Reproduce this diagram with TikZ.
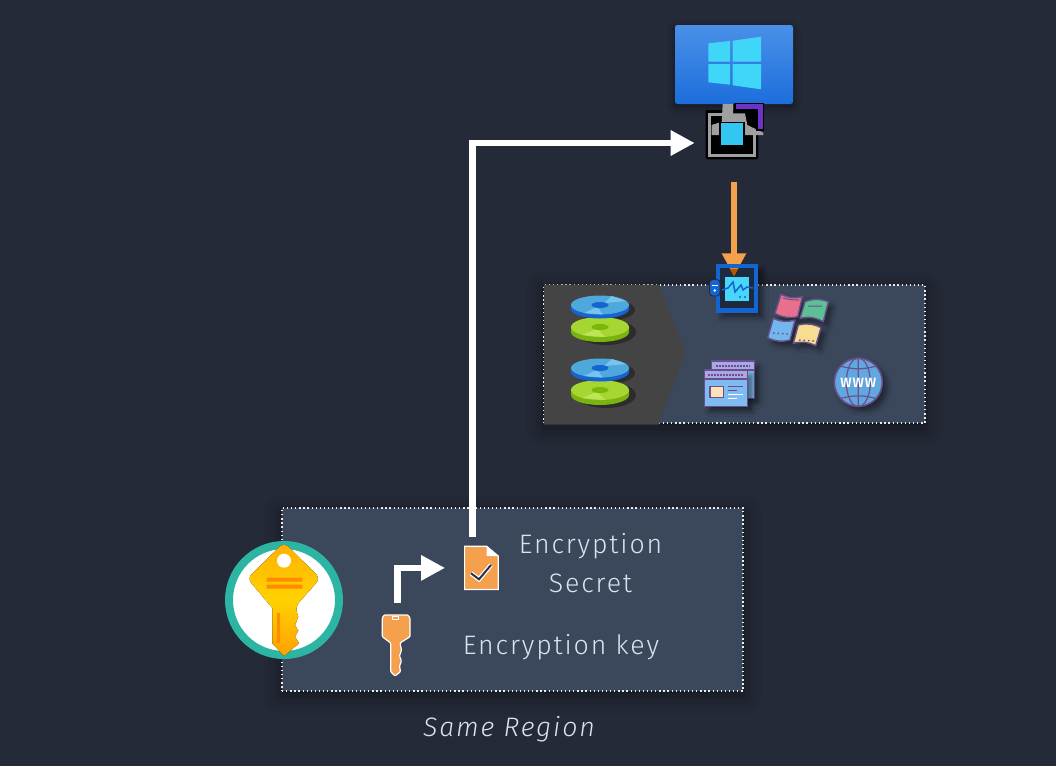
\documentclass[tikz,border=0pt]{standalone}
\usepackage{fontspec}
\setmainfont{Fira Sans Light}[LetterSpace=7,ItalicFont=Fira Sans Light Italic]
\usetikzlibrary{arrows.meta,shadows.blur}
\definecolor{pagebg}{HTML}{252A38}
\definecolor{panelbg}{HTML}{3B485C}
\definecolor{greybg}{HTML}{444444}
\definecolor{labelcol}{HTML}{D8E4EE}
\definecolor{arroworange}{HTML}{F4A04C}
\definecolor{iconpurple}{HTML}{6A4F8C}
\definecolor{monitorblue}{HTML}{1464D2}
\definecolor{panecyan}{HTML}{3FD6F7}
\definecolor{bodyblue}{HTML}{7DBBF0}
\definecolor{headerlilac}{HTML}{A9A8E4}
\definecolor{keybar}{HTML}{FF8C00}
\definecolor{agentdark}{HTML}{1D293C}
\begin{document}
\begin{tikzpicture}[x=1pt,y=-1pt]
\tikzstyle{anchor box}=[rectangle,inner sep=0,outer sep=0]
\tikzstyle{label text}=[text=labelcol,font=\fontsize{26.7}{30}\selectfont,inner sep=0]
\tikzset{
	panel/.style={rectangle,fill=panelbg,draw=white!90!panelbg,line width=1.3pt,dash pattern=on 1.3pt off 2.8pt,inner sep=0,
		blur shadow={shadow xshift=0pt,shadow yshift=-5pt,shadow blur radius=18pt,shadow opacity=50}},
	icon shadow/.style={blur shadow={shadow xshift=5pt,shadow yshift=-5pt,shadow blur radius=5pt,shadow opacity=45}},
	white arrow/.style={draw=white,line width=6.5pt,-{Triangle[length=24pt,width=24pt]}},
	orange arrow/.style={draw=arroworange,line width=6.5pt,-{Triangle[length=23pt,width=23pt]}},
	page part/.style={draw=iconpurple,line width=1.4pt,line join=round},
	disk stack/.pic={
		\fill[black,opacity=.35] (6,27) ellipse [x radius=30,y radius=13];
		\fill[black,opacity=.35] (6,5) ellipse [x radius=29,y radius=11];
		\fill[fill={rgb,255:red,122;green,178;blue,16}] (-29,22) -- (-29,27) arc [start angle=180,end angle=0,x radius=29,y radius=10] -- (29,22) -- cycle;
		\fill[fill={rgb,255:red,166;green,214;blue,50}] (0,22) ellipse [x radius=29,y radius=10];
		\fill[fill={rgb,255:red,190;green,228;blue,90}] (-3,24) -- (-18,30) -- (5,32) -- cycle;
		\fill[fill={rgb,255:red,122;green,184;blue,8}] (0,22) ellipse [x radius=8.5,y radius=3];
		\fill[monitorblue] (-29,0) -- (-29,4) arc [start angle=180,end angle=0,x radius=29,y radius=9.5] -- (29,0) -- cycle;
		\fill[fill={rgb,255:red,79;green,168;blue,220}] (0,0) ellipse [x radius=29,y radius=9.5];
		\fill[fill={rgb,255:red,120;green,196;blue,236}] (4,-2) -- (12,-9) -- (26,-4) -- cycle;
		\fill[fill={rgb,255:red,120;green,196;blue,236}] (-3,2) -- (-16,8) -- (3,9.5) -- cycle;
		\fill[monitorblue] (0,0) ellipse [x radius=8.5,y radius=3];
	}
}
\useasboundingbox (0,0) rectangle (1056,766);
\fill[pagebg] (0,0) rectangle (1056,766);

% panels
\node[panel,minimum width=381pt,minimum height=138pt] (vmpanel) at (734.5,354) {};
\node[panel,minimum width=461pt,minimum height=183pt] (keypanel) at (512.5,599.5) {};
\fill[greybg] (544,284.5) -- (659,284.5) -- (685,352) -- (659,424.5) -- (544,424.5) -- cycle;
\pic at (600,305) {disk stack};
\pic at (600,368) {disk stack};

% vm on top
\node[rectangle,rounded corners=2.5pt,minimum width=118pt,minimum height=79pt,inner sep=0,top color={rgb,255:red,74;green,144;blue,232},bottom color={rgb,255:red,28;green,110;blue,220},
	blur shadow={shadow xshift=0pt,shadow yshift=-3pt,shadow blur radius=8pt,shadow opacity=50}] (vmbox) at (734,64.5) {};
\fill[panecyan] (708.3,43.3) -- (730,41) -- (730,61.7) -- (708.3,61.7) -- cycle;
\fill[panecyan] (732.7,40.7) -- (761,36.7) -- (761,61.7) -- (732.7,61.7) -- cycle;
\fill[panecyan] (708.3,64) -- (730,64) -- (730,84.7) -- (708.3,82.3) -- cycle;
\fill[panecyan] (732.7,64) -- (761,64) -- (761,89.3) -- (732.7,85.3) -- cycle;

% disk encryption icon
\node[anchor box,minimum width=52.6pt,minimum height=49.3pt] (diskicon) at (732,134.7) {};
\fill[black,rounded corners=1.5pt] (705.7,110) rectangle (758.3,159.3);
\draw[gray!75,line width=3pt] (731.7,114) -- (709.5,114) -- (709.5,155) -- (754.7,155) -- (754.7,135);
\fill[gray!75] (722.7,104) -- (733,104) -- (733,113.3) -- (745,113.3) -- (747.3,125) -- (763.3,132.7) -- (763.3,135) -- (711.7,135) -- (711.7,125) -- (721.7,121.7) -- cycle;
\draw[black,line width=1.5pt,fill={rgb,255:red,107;green,52;blue,196}] (735,103.5) -- (763.5,103.5) -- (763.5,130) -- (757,130) -- (757,110) -- (735,110) -- cycle;
\draw[black,line width=1.5pt,fill={rgb,255:red,51;green,198;blue,240}] (720,122.3) rectangle (744,146);

% monitoring icon
\node[anchor box,minimum width=24pt,minimum height=24pt] (agenticon) at (737,289.3) {};
\fill[agentdark,icon shadow] (716,264) rectangle (758.3,312.7);
\draw[orange arrow,shorten <=22.7pt,shorten >=1pt] ([xshift=2pt]diskicon.south) -- ([xshift=-3pt]agenticon.north);
\draw[monitorblue,line width=4.5pt] (718.2,266.2) rectangle (756.1,310.5);
\fill[orange!70!black] (729.7,268.5) -- (738.3,268.5) -- (734,276) -- cycle;
\fill[fill={rgb,255:red,72;green,214;blue,250}] (725,277.3) rectangle (749,301);
\draw[monitorblue,line width=1.5pt] (722,290) -- (728,288) -- (733,282) -- (735,292) -- (741,285) -- (743,290) -- (747,287) -- (753,288);
\fill[monitorblue] (740,297) circle (1.1) (745,297) circle (1.1);
\draw[agentdark,line width=.8pt,fill=monitorblue,rounded corners=3.5pt] (709.5,279.5) rectangle (720,296);
\fill[white] (714.8,290.5) circle (1.4);
\draw[white,line width=.7pt] (711.5,285.5) -- (718,285.5);

% windows flag icon
\draw[page part,fill={rgb,255:red,232;green,112;blue,140},icon shadow] (781,294.3) to[bend right=20] (802.3,296.7) -- (797.7,316.7) to[bend left=20] (775,313.3) -- cycle;
\draw[page part,fill={rgb,255:red,92;green,191;blue,149},icon shadow] (805,301.7) to[bend left=20] (828.3,301.7) -- (823.3,321.7) to[bend right=20] (800,318.3) -- cycle;
\draw[page part,fill={rgb,255:red,114;green,182;blue,238},icon shadow] (773.3,318.3) to[bend right=20] (795,320) -- (790,340) to[bend left=20] (767.7,337.7) -- cycle;
\draw[page part,fill={rgb,255:red,248;green,220;blue,144},icon shadow] (798.3,325) to[bend left=20] (821,327.7) -- (815.7,345.7) to[bend right=20] (793.3,343.3) -- cycle;
\draw[iconpurple,line width=1pt] (783,298) to[bend right=8] (799,300) (808,306) -- (822,306);
\draw[iconpurple,line width=1.4pt,dash pattern=on 1.5pt off 3pt] (773,333) -- (788,334) (799,340) -- (814,341);

% web pages icon
\draw[page part,fill=bodyblue,icon shadow] (711.7,361) rectangle (754.3,398.3);
\draw[page part,fill=headerlilac] (711.7,361) rectangle (754.3,370);
\draw[page part,fill=bodyblue,icon shadow] (704.3,370) rectangle (747.7,406.7);
\draw[page part,fill=headerlilac] (704.3,370) rectangle (747.7,379);
\draw[iconpurple,line width=2pt,dash pattern=on 1.5pt off 1.5pt] (708,374.5) -- (744,374.5);
\draw[iconpurple,line width=2pt,dash pattern=on 1.5pt off 1.5pt] (716,365.5) -- (750,365.5);
\draw[page part,fill=yellow!15!orange!25!white] (710,386.7) rectangle (723.3,397.7);
\draw[iconpurple,line width=1pt] (728,386) -- (743,386) (728,390) -- (737,390);
\draw[white,line width=1pt] (728,394) -- (743,394) (728,398) -- (737,398);

% globe
\node[circle,minimum size=48pt,inner sep=0,draw=iconpurple,line width=1.6pt,fill={rgb,255:red,98;green,168;blue,224},icon shadow] (globeicon) at (858.3,382.3) {};
\draw[iconpurple,line width=1.2pt] (858.3,358) -- (858.3,406.6) (858.3,358) arc [start angle=270,end angle=90,x radius=12,y radius=24.3] (858.3,358) arc [start angle=-90,end angle=90,x radius=12,y radius=24.3];
\draw[iconpurple,line width=1.2pt] (840,366) to[bend right=15] (876.6,366) (840,398.6) to[bend left=15] (876.6,398.6);
\node[text=white,font=\bfseries\fontsize{13.5}{15}\selectfont,inner sep=0] (wwwlabel) at (858.3,382.5) {WWW};

% key vault
\node[circle,minimum size=110pt,inner sep=0,draw={rgb,255:red,45;green,181;blue,163},line width=8pt,fill=white] (vaulticon) at (284,600) {};
\fill[top color={rgb,255:red,255;green,176;blue,0},bottom color={rgb,255:red,255;green,160;blue,0},middle color={rgb,255:red,255;green,210;blue,0}] (299,643.3) -- (284,656) -- (272.3,643.3) -- (272.3,608) [rounded corners=6pt] -- (247.3,578.3) -- (284,542.5) -- (320.3,578.3) -- (295,607) [sharp corners] -- (298.3,616.7) -- (295,625) -- (298.3,630.7) -- (295,636.7) -- cycle;
\fill[white] (284,560.7) circle (7);
\fill[keybar] (266.7,577.7) rectangle (302.3,581.7) (266.7,584.7) rectangle (302.3,588.7);
\draw[keybar,line width=2.5pt] (278.3,613) -- (278.3,643);

% small key
\node[anchor box,minimum width=28.3pt,minimum height=62.4pt] (smallkey) at (397.5,645.5) {};
\draw[white,line width=1.2pt,fill=arroworange,rounded corners=1pt] (384,615) -- (408,615) -- (410,618) -- (410,636.7) -- (400,643) -- (401.5,650) -- (399.5,656) -- (401.5,661) -- (399.5,666) -- (400.5,671.7) -- (395,676) -- (390.7,671.7) -- (390.7,643) -- (382.3,636.7) -- (382.3,618) -- cycle;
\draw[white,line width=.7pt] (392.7,616.8) rectangle (398.3,619);

% secret file
\node[anchor box,minimum width=34.7pt,minimum height=43.7pt] (secretfile) at (481.4,567.9) {};
\draw[white,line width=1.2pt,fill=arroworange] (464.6,546.3) -- (486.7,546.3) -- (498.2,556) -- (498.2,589.4) -- (464.6,589.4) -- cycle;
\fill[white] (486.7,546.3) -- (498.2,556) -- (486.7,556) -- cycle;
\draw[white,line width=4.5pt] (471,573.3) -- (479,579.3) -- (491,565);
\draw[panelbg!70!black,line width=2pt] (471,573.3) -- (479,579.3) -- (491,565);

% arrows
\draw[white arrow,shorten <=9pt,shorten >=11pt] ([xshift=-9pt]secretfile.north) |- ([yshift=-8.3pt]diskicon.west);
\draw[white arrow,shorten <=11pt,shorten >=19pt] (smallkey.north) |- (secretfile.west);

% labels
\node[label text] (secretlabel) at (590.5,566.5) {\begin{tabular}{@{}c@{}}Encryption\\[9pt]Secret\end{tabular}};
\node[label text] (keylabel) at (561,647) {Encryption key};
\node[label text,font=\itshape\fontsize{26.7}{30}\selectfont] (regionlabel) at (509,729) {Same Region};
\end{tikzpicture}
\end{document}
